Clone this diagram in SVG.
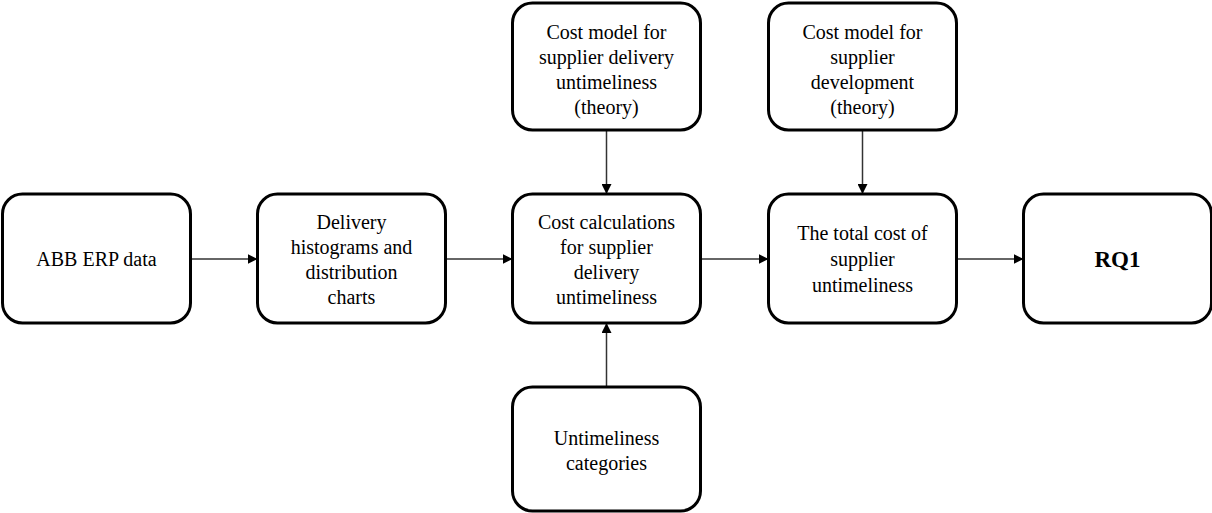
<svg xmlns="http://www.w3.org/2000/svg" width="1212" height="513" viewBox="0 0 1212 513">
  <style>
    .box { fill: #ffffff; stroke: #000000; stroke-width: 3; }
    .lbl { font-size: 20px; fill: #000000; text-anchor: middle; }
    .bold { font-weight: bold; font-size: 23px; }
    .conn { stroke: #333333; stroke-width: 1.5; fill: none; marker-end: url(#arrow); }
  </style>
  <defs>
    <marker id="arrow" viewBox="0 0 10 10" refX="10" refY="5" markerWidth="10" markerHeight="10" markerUnits="userSpaceOnUse" orient="auto">
      <path d="M0,0 L10,5 L0,10 Z" fill="#000000"/>
    </marker>
  </defs>
  <rect width="1212" height="513" fill="#ffffff"/>

  <g id="connectors">
    <line class="conn" x1="190.5" y1="259" x2="257.5" y2="259"/>
    <line class="conn" x1="445.5" y1="259" x2="512.5" y2="259"/>
    <line class="conn" x1="700.5" y1="259" x2="768.5" y2="259"/>
    <line class="conn" x1="956.5" y1="259" x2="1023.5" y2="259"/>
    <line class="conn" x1="606.5" y1="130" x2="606.5" y2="194"/>
    <line class="conn" x1="862.5" y1="130" x2="862.5" y2="194"/>
    <line class="conn" x1="606.5" y1="387" x2="606.5" y2="323"/>
  </g>

  <g font-family="'Liberation Serif', 'Times New Roman', serif">
    <g id="erp-data">
      <rect class="box" x="2.5" y="194" width="188" height="129" rx="20"/>
      <text class="lbl" x="96.5" y="266">ABB ERP data</text>
    </g>

    <g id="delivery-histograms">
      <rect class="box" x="257.5" y="194" width="188" height="129" rx="20"/>
      <text class="lbl" x="351.5" y="228.5">Delivery</text>
      <text class="lbl" x="351.5" y="253.5">histograms and</text>
      <text class="lbl" x="351.5" y="278.5">distribution</text>
      <text class="lbl" x="351.5" y="303.5">charts</text>
    </g>

    <g id="cost-calculations">
      <rect class="box" x="512.5" y="194" width="188" height="129" rx="20"/>
      <text class="lbl" x="606.5" y="228.5">Cost calculations</text>
      <text class="lbl" x="606.5" y="253.5">for supplier</text>
      <text class="lbl" x="606.5" y="278.5">delivery</text>
      <text class="lbl" x="606.5" y="303.5">untimeliness</text>
    </g>

    <g id="total-cost">
      <rect class="box" x="768.5" y="194" width="188" height="129" rx="20"/>
      <text class="lbl" x="862.5" y="240">The total cost of</text>
      <text class="lbl" x="862.5" y="266">supplier</text>
      <text class="lbl" x="862.5" y="292">untimeliness</text>
    </g>

    <g id="rq1">
      <rect class="box" x="1023.5" y="194" width="188" height="129" rx="20"/>
      <text class="lbl bold" x="1117.5" y="267">RQ1</text>
    </g>

    <g id="cost-model-untimeliness">
      <rect class="box" x="512.5" y="3" width="188" height="127" rx="20"/>
      <text class="lbl" x="606.5" y="39">Cost model for</text>
      <text class="lbl" x="606.5" y="64">supplier delivery</text>
      <text class="lbl" x="606.5" y="89">untimeliness</text>
      <text class="lbl" x="606.5" y="114">(theory)</text>
    </g>

    <g id="cost-model-development">
      <rect class="box" x="768.5" y="3" width="188" height="127" rx="20"/>
      <text class="lbl" x="862.5" y="39">Cost model for</text>
      <text class="lbl" x="862.5" y="64">supplier</text>
      <text class="lbl" x="862.5" y="89">development</text>
      <text class="lbl" x="862.5" y="114">(theory)</text>
    </g>

    <g id="untimeliness-categories">
      <rect class="box" x="512.5" y="387" width="188" height="124" rx="20"/>
      <text class="lbl" x="606.5" y="445">Untimeliness</text>
      <text class="lbl" x="606.5" y="470">categories</text>
    </g>
  </g>
</svg>
